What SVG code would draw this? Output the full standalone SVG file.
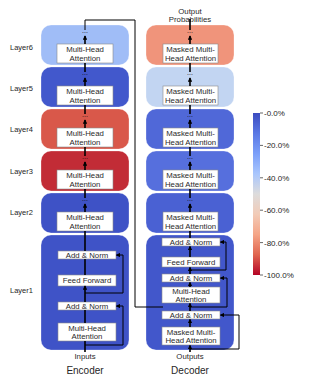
<svg xmlns="http://www.w3.org/2000/svg" width="313" height="379" viewBox="0 0 313 379">
<style>
.lay{stroke:#ffffff;stroke-opacity:0.35;stroke-width:0.8}
.ib{fill:#ffffff;stroke:#8a8a8a;stroke-width:0.6}
.t{font-family:"Liberation Sans",Arial,sans-serif;font-size:7.8px;fill:#2a2a2a;text-anchor:middle}
.lbl{font-family:"Liberation Sans",Arial,sans-serif;font-size:7.5px;fill:#262626}
.dots{font-family:"Liberation Sans",Arial,sans-serif;font-size:7px;fill:#111;text-anchor:middle}
.big{font-family:"Liberation Sans",Arial,sans-serif;font-size:10px;fill:#262626;text-anchor:middle}
.cbt{font-family:"Liberation Sans",Arial,sans-serif;font-size:8px;fill:#262626}
.m{stroke:#000;stroke-width:1.6;fill:none}
.r{stroke:#000;stroke-width:1;fill:none}
</style>
<defs>
<marker id="ah" viewBox="0 0 6 6" refX="5" refY="3" markerWidth="4.5" markerHeight="4.5" orient="auto" markerUnits="userSpaceOnUse"><path d="M0,0 L6,3 L0,6 z" fill="#000"/></marker>
<linearGradient id="cb" x1="0" y1="0" x2="0" y2="1">
<stop offset="0" stop-color="#3b4cc0"/>
<stop offset="0.125" stop-color="#5a78e4"/>
<stop offset="0.25" stop-color="#7b9ff9"/>
<stop offset="0.375" stop-color="#a9c6fd"/>
<stop offset="0.5" stop-color="#dddcdc"/>
<stop offset="0.625" stop-color="#f2cbb7"/>
<stop offset="0.75" stop-color="#f5a587"/>
<stop offset="0.875" stop-color="#e0654f"/>
<stop offset="1" stop-color="#b40426"/>
</linearGradient>
</defs>

<!-- Layer labels -->
<g id="layer-labels">
<text class="lbl" x="10" y="49.5">Layer6</text>
<text class="lbl" x="10" y="90.5">Layer5</text>
<text class="lbl" x="10" y="131.5">Layer4</text>
<text class="lbl" x="10" y="174">Layer3</text>
<text class="lbl" x="10" y="214.5">Layer2</text>
<text class="lbl" x="10" y="292.5">Layer1</text>
</g>

<!-- Encoder -->
<g id="enc-l6"><rect class="lay" x="41" y="25" width="88" height="40" rx="10" fill="#a0bdf7"/><rect class="ib" x="57" y="44" width="56" height="19"/><text class="t" x="85" y="52">Multi-Head</text><text class="t" x="85" y="61">Attention</text><text class="dots" x="85" y="33">...</text></g>
<g id="enc-l5"><rect class="lay" x="41" y="67" width="88" height="40" rx="10" fill="#4258cc"/><rect class="ib" x="57" y="86" width="56" height="19"/><text class="t" x="85" y="94">Multi-Head</text><text class="t" x="85" y="103">Attention</text><text class="dots" x="85" y="75">...</text></g>
<g id="enc-l4"><rect class="lay" x="41" y="109" width="88" height="40" rx="10" fill="#d9584a"/><rect class="ib" x="57" y="128" width="56" height="19"/><text class="t" x="85" y="136">Multi-Head</text><text class="t" x="85" y="145">Attention</text><text class="dots" x="85" y="117">...</text></g>
<g id="enc-l3"><rect class="lay" x="41" y="151" width="88" height="40" rx="10" fill="#c22c36"/><rect class="ib" x="57" y="170" width="56" height="19"/><text class="t" x="85" y="178">Multi-Head</text><text class="t" x="85" y="187">Attention</text><text class="dots" x="85" y="159">...</text></g>
<g id="enc-l2"><rect class="lay" x="41" y="193" width="88" height="40" rx="10" fill="#3e52c6"/><rect class="ib" x="57" y="212" width="56" height="19"/><text class="t" x="85" y="220">Multi-Head</text><text class="t" x="85" y="229">Attention</text><text class="dots" x="85" y="201">...</text></g>
<g id="enc-l1"><rect class="lay" x="41" y="235" width="88" height="115" rx="10" fill="#3f53c7"/>
<rect class="ib" x="58" y="251" width="58" height="8"/><text class="t" x="87" y="257.8">Add &amp; Norm</text>
<rect class="ib" x="58" y="275" width="58" height="11"/><text class="t" x="87" y="283.3">Feed Forward</text>
<rect class="ib" x="58" y="302" width="58" height="8"/><text class="t" x="87" y="308.8">Add &amp; Norm</text>
<rect class="ib" x="58" y="323" width="58" height="18"/><text class="t" x="87" y="330.5">Multi-Head</text><text class="t" x="87" y="339">Attention</text>
</g>

<!-- Decoder -->
<g id="dec-l6"><rect class="lay" x="146" y="25" width="88" height="40" rx="10" fill="#f0947b"/><rect class="ib" x="163" y="44" width="55" height="19"/><text class="t" x="190.5" y="52">Masked Multi-</text><text class="t" x="190.5" y="61">Head Attention</text><text class="dots" x="190" y="33">...</text></g>
<g id="dec-l5"><rect class="lay" x="146" y="67" width="88" height="40" rx="10" fill="#c2d5f2"/><rect class="ib" x="163" y="86" width="55" height="19"/><text class="t" x="190.5" y="94">Masked Multi-</text><text class="t" x="190.5" y="103">Head Attention</text><text class="dots" x="190" y="75">...</text></g>
<g id="dec-l4"><rect class="lay" x="146" y="109" width="88" height="40" rx="10" fill="#5068d8"/><rect class="ib" x="163" y="128" width="55" height="19"/><text class="t" x="190.5" y="136">Masked Multi-</text><text class="t" x="190.5" y="145">Head Attention</text><text class="dots" x="190" y="117">...</text></g>
<g id="dec-l3"><rect class="lay" x="146" y="151" width="88" height="40" rx="10" fill="#566fdd"/><rect class="ib" x="163" y="170" width="55" height="19"/><text class="t" x="190.5" y="178">Masked Multi-</text><text class="t" x="190.5" y="187">Head Attention</text><text class="dots" x="190" y="159">...</text></g>
<g id="dec-l2"><rect class="lay" x="146" y="193" width="88" height="40" rx="10" fill="#4a61d3"/><rect class="ib" x="163" y="212" width="55" height="19"/><text class="t" x="190.5" y="220">Masked Multi-</text><text class="t" x="190.5" y="229">Head Attention</text><text class="dots" x="190" y="201">...</text></g>
<g id="dec-l1"><rect class="lay" x="146" y="235" width="88" height="115" rx="10" fill="#4257cb"/>
<rect class="ib" x="162" y="238" width="58" height="8"/><text class="t" x="191" y="244.8">Add &amp; Norm</text>
<rect class="ib" x="162" y="257" width="58" height="10"/><text class="t" x="191" y="264.8">Feed Forward</text>
<rect class="ib" x="162" y="274" width="58" height="8"/><text class="t" x="191" y="280.8">Add &amp; Norm</text>
<rect class="ib" x="162" y="287" width="58" height="16"/><text class="t" x="191" y="294">Multi-Head</text><text class="t" x="191" y="302">Attention</text>
<rect class="ib" x="162" y="311" width="58" height="8"/><text class="t" x="191" y="317.8">Add &amp; Norm</text>
<rect class="ib" x="162" y="327" width="58" height="18"/><text class="t" x="191" y="334.5">Masked Multi-</text><text class="t" x="191" y="343">Head Attention</text>
</g>

<!-- Labels -->
<g id="io-labels">
<text class="t" x="190" y="14" font-size="7.5">Output</text>
<text class="t" x="190" y="22" font-size="7.5">Probabilities</text>
<text class="t" x="85" y="359" font-size="7">Inputs</text>
<text class="t" x="190" y="359" font-size="7">Outputs</text>
<text class="big" x="85" y="374">Encoder</text>
<text class="big" x="190" y="374">Decoder</text>
</g>

<!-- Connectors -->
<g id="connectors">
<!-- encoder stack -->
<line class="m" x1="85" y1="44" x2="85" y2="36" marker-end="url(#ah)"/>
<line class="m" x1="85" y1="86" x2="85" y2="78" marker-end="url(#ah)"/>
<line class="m" x1="85" y1="128" x2="85" y2="120" marker-end="url(#ah)"/>
<line class="m" x1="85" y1="170" x2="85" y2="162" marker-end="url(#ah)"/>
<line class="m" x1="85" y1="212" x2="85" y2="204" marker-end="url(#ah)"/>
<line class="m" x1="85" y1="72" x2="85" y2="63"/>
<line class="m" x1="85" y1="114" x2="85" y2="105"/>
<line class="m" x1="85" y1="156" x2="85" y2="147"/>
<line class="m" x1="85" y1="198" x2="85" y2="189"/>
<line class="m" x1="85" y1="251" x2="85" y2="231"/>
<line class="m" x1="85" y1="275" x2="85" y2="259"/>
<line class="m" x1="85" y1="302" x2="85" y2="286" marker-end="url(#ah)"/>
<line class="m" x1="85" y1="323" x2="85" y2="310"/>
<line class="m" x1="85" y1="352" x2="85" y2="341"/>
<polyline class="r" points="85,293 123,293 123,255 116.5,255" marker-end="url(#ah)"/>
<polyline class="r" points="85,345 123,345 123,306 116.5,306" marker-end="url(#ah)"/>
<polyline class="r" points="85,30 85,20 135,20 135,307 163,307"/>
<!-- decoder stack -->
<line class="m" x1="190" y1="30" x2="190" y2="19"/>
<line class="m" x1="190" y1="44" x2="190" y2="36" marker-end="url(#ah)"/>
<line class="m" x1="190" y1="86" x2="190" y2="78" marker-end="url(#ah)"/>
<line class="m" x1="190" y1="128" x2="190" y2="120" marker-end="url(#ah)"/>
<line class="m" x1="190" y1="170" x2="190" y2="162" marker-end="url(#ah)"/>
<line class="m" x1="190" y1="212" x2="190" y2="204" marker-end="url(#ah)"/>
<line class="m" x1="190" y1="72" x2="190" y2="63"/>
<line class="m" x1="190" y1="114" x2="190" y2="105"/>
<line class="m" x1="190" y1="156" x2="190" y2="147"/>
<line class="m" x1="190" y1="198" x2="190" y2="189"/>
<line class="m" x1="190" y1="238" x2="190" y2="231"/>
<line class="m" x1="190" y1="257" x2="190" y2="246.5" marker-end="url(#ah)"/>
<line class="m" x1="190" y1="274" x2="190" y2="267.5" marker-end="url(#ah)"/>
<line class="m" x1="190" y1="287" x2="190" y2="282.5" marker-end="url(#ah)"/>
<line class="m" x1="190" y1="311" x2="190" y2="303.5" marker-end="url(#ah)"/>
<line class="m" x1="190" y1="327" x2="190" y2="319.5" marker-end="url(#ah)"/>
<line class="m" x1="190" y1="352" x2="190" y2="345.5" marker-end="url(#ah)"/>
<polyline class="r" points="190,270 226,270 226,242 220.5,242" marker-end="url(#ah)"/>
<polyline class="r" points="190,307 227,307 227,278 220.5,278" marker-end="url(#ah)"/>
<polyline class="r" points="190,349 239,349 239,315 220.5,315" marker-end="url(#ah)"/>
</g>

<!-- Colorbar -->
<g id="colorbar">
<rect x="253" y="113" width="7" height="162" fill="url(#cb)"/>
<g stroke="#262626" stroke-width="0.7">
<line x1="260" y1="113" x2="263" y2="113"/>
<line x1="260" y1="145.4" x2="263" y2="145.4"/>
<line x1="260" y1="177.8" x2="263" y2="177.8"/>
<line x1="260" y1="210.2" x2="263" y2="210.2"/>
<line x1="260" y1="242.6" x2="263" y2="242.6"/>
<line x1="260" y1="275" x2="263" y2="275"/>
</g>
<text class="cbt" x="264" y="116">-0.0%</text>
<text class="cbt" x="264" y="148.4">-20.0%</text>
<text class="cbt" x="264" y="180.8">-40.0%</text>
<text class="cbt" x="264" y="213.2">-60.0%</text>
<text class="cbt" x="264" y="245.6">-80.0%</text>
<text class="cbt" x="264" y="278">-100.0%</text>
</g>
</svg>
